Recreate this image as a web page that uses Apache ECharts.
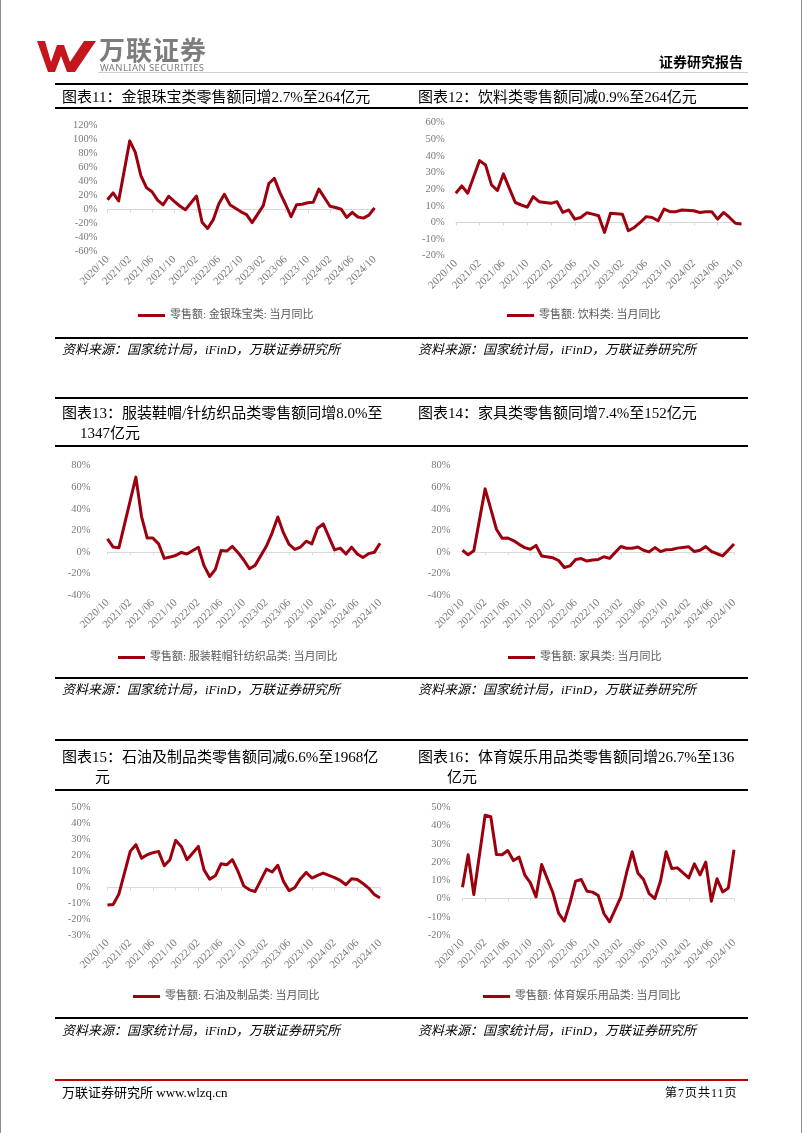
<!DOCTYPE html>
<html>
<head>
<meta charset="utf-8">
<script src="https://cdn.jsdelivr.net/npm/echarts@6/dist/echarts.min.js"></script>
<style>
html,body{margin:0;padding:0;background:#fff;}
#page{position:relative;width:802px;height:1133px;overflow:hidden;background:#fff;}
#chart{position:absolute;left:0;top:0;width:802px;height:1133px;}
.t{position:absolute;white-space:nowrap;font-family:"Liberation Serif","Noto Sans CJK SC",serif;color:#000;}
.hl{position:absolute;background:#000;}
</style>
</head>
<body>
<div id="page">
  <div id="chart"></div>
  <div style="position:absolute;left:0;top:0;width:1px;height:1133px;background:#8c8c8c"></div>
  <div style="position:absolute;left:801px;top:0;width:1px;height:1133px;background:#8c8c8c"></div>

  <!-- header -->
  <svg style="position:absolute;left:0;top:0" width="110" height="80">
    <path d="M37,41 L45,41 L51,62 L57,45 L64,45 L70,62 L84,41 L96,41 L75,72 L67,72 L61,56 L55,72 L48,72 Z" fill="#c4161c"/>
  </svg>
  <div class="t" style="left:99px;top:33px;font-family:'Noto Sans CJK SC';font-weight:700;font-size:26px;line-height:32px;color:#7d7d7d;letter-spacing:1px">万联证券</div>
  <div class="t" style="left:100px;top:62px;font-family:'Noto Sans',sans-serif;font-size:9.5px;line-height:11px;color:#7d7d7d;letter-spacing:0.4px">WANLIAN SECURITIES</div>
  <div style="position:absolute;left:98px;top:72px;width:650px;height:1px;background:#d0d0d0"></div>
  <div class="t" style="left:659px;top:51px;font-family:'Noto Sans CJK SC';font-weight:700;font-size:14px;line-height:20px">证券研究报告</div>

  <!-- section 1 -->
  <div class="hl" style="left:55px;top:83px;width:693px;height:2px"></div>
  <div class="t" style="left:62px;top:87px;font-size:15px;line-height:20px">图表11：金银珠宝类零售额同增2.7%至264亿元</div>
  <div class="t" style="left:418px;top:87px;font-size:15px;line-height:20px">图表12：饮料类零售额同减0.9%至264亿元</div>
  <div class="hl" style="left:55px;top:107px;width:693px;height:2px"></div>
  <div class="hl" style="left:55px;top:337px;width:693px;height:2px"></div>
  <div class="t" style="left:62px;top:341px;font-size:13px;line-height:18px;font-style:italic">资料来源：国家统计局，iFinD，万联证券研究所</div>
  <div class="t" style="left:418px;top:341px;font-size:13px;line-height:18px;font-style:italic">资料来源：国家统计局，iFinD，万联证券研究所</div>

  <!-- section 2 -->
  <div class="hl" style="left:55px;top:397px;width:693px;height:2px"></div>
  <div class="t" style="left:62px;top:403px;font-size:15px;line-height:20px">图表13：服装鞋帽/针纺织品类零售额同增8.0%至</div>
  <div class="t" style="left:80px;top:423px;font-size:15px;line-height:20px">1347亿元</div>
  <div class="t" style="left:418px;top:403px;font-size:15px;line-height:20px">图表14：家具类零售额同增7.4%至152亿元</div>
  <div class="hl" style="left:55px;top:445px;width:693px;height:2px"></div>
  <div class="hl" style="left:55px;top:677px;width:693px;height:2px"></div>
  <div class="t" style="left:62px;top:681px;font-size:13px;line-height:18px;font-style:italic">资料来源：国家统计局，iFinD，万联证券研究所</div>
  <div class="t" style="left:418px;top:681px;font-size:13px;line-height:18px;font-style:italic">资料来源：国家统计局，iFinD，万联证券研究所</div>

  <!-- section 3 -->
  <div class="hl" style="left:55px;top:739px;width:693px;height:2px"></div>
  <div class="t" style="left:62px;top:747px;font-size:15px;line-height:20px">图表15：石油及制品类零售额同减6.6%至1968亿</div>
  <div class="t" style="left:95px;top:767px;font-size:15px;line-height:20px">元</div>
  <div class="t" style="left:418px;top:747px;font-size:15px;line-height:20px">图表16：体育娱乐用品类零售额同增26.7%至136</div>
  <div class="t" style="left:447px;top:767px;font-size:15px;line-height:20px">亿元</div>
  <div class="hl" style="left:55px;top:789px;width:693px;height:2px"></div>
  <div class="hl" style="left:55px;top:1017px;width:693px;height:2px"></div>
  <div class="t" style="left:62px;top:1022px;font-size:13px;line-height:18px;font-style:italic">资料来源：国家统计局，iFinD，万联证券研究所</div>
  <div class="t" style="left:418px;top:1022px;font-size:13px;line-height:18px;font-style:italic">资料来源：国家统计局，iFinD，万联证券研究所</div>

  <!-- footer -->
  <div style="position:absolute;left:55px;top:1079px;width:693px;height:2px;background:#c00000"></div>
  <div class="t" style="left:62px;top:1084px;font-size:13px;line-height:18px">万联证券研究所 www.wlzq.cn</div>
  <div class="t" style="left:665px;top:1085px;font-size:12px;line-height:16px;letter-spacing:1px">第7页共11页</div>
</div>

<script>
// ---- data ----
const categories = [
  '2020/10','2020/11','2020/12',
  '2021/01','2021/02','2021/03','2021/04','2021/05','2021/06','2021/07','2021/08','2021/09','2021/10','2021/11','2021/12',
  '2022/01','2022/02','2022/03','2022/04','2022/05','2022/06','2022/07','2022/08','2022/09','2022/10','2022/11','2022/12',
  '2023/01','2023/02','2023/03','2023/04','2023/05','2023/06','2023/07','2023/08','2023/09','2023/10','2023/11','2023/12',
  '2024/01','2024/02','2024/03','2024/04','2024/05','2024/06','2024/07','2024/08','2024/09','2024/10'
];

const goldJewelry = [14.3, 24.0, 12.4,
  null, 98.3, 82.0, 48.7, 31.6, 25.6, 13.7, 7.0, 19.2, 12.0, 5.3, 0.0,
  null, 19.5, -17.9, -26.7, -14.6, 8.1, 22.1, 7.2, 2.0, -3.0, -7.0, -18.4,
  null, 5.9, 37.4, 44.7, 24.4, 7.8, -10.0, 7.2, 7.7, 10.0, 10.7, 29.4,
  null, 5.0, 3.2, 0.7, -11.0, -3.7, -10.4, -12.0, -7.8, 2.7];

const beverages = [17.6, 22.0, 17.6,
  null, 37.2, 34.6, 22.6, 19.2, 29.2, 20.5, 12.0, 10.5, 9.2, 15.5, 12.5,
  null, 11.5, 12.5, 6.0, 7.5, 2.0, 3.0, 5.8, 5.0, 4.0, -6.0, 5.5,
  null, 5.0, -5.0, -3.0, 0.0, 3.5, 3.0, 1.0, 8.0, 6.5, 6.5, 7.5,
  null, 7.0, 6.0, 6.5, 6.5, 2.0, 6.0, 3.0, -0.5, -0.9];

const apparel = [12.1, 4.5, 3.8,
  null, 47.5, 69.4, 32.8, 12.8, 12.8, 7.5, -6.0, -4.8, -3.3, -0.5, -2.0,
  null, 4.3, -12.7, -22.8, -16.2, 1.2, 0.8, 5.1, -0.7, -7.5, -15.6, -12.5,
  null, 5.4, 17.7, 32.4, 17.6, 6.9, 2.3, 4.5, 9.9, 7.5, 22.0, 26.0,
  null, 1.9, 3.5, -2.0, 4.4, -1.9, -5.2, -1.6, -0.4, 8.0];

const furniture = [1.5, -2.7, 1.0,
  null, 58.5, 40.0, 21.0, 12.7, 12.9, 10.5, 7.0, 4.0, 2.5, 6.0, -3.8,
  null, -5.5, -8.0, -14.5, -13.0, -7.0, -6.2, -8.5, -7.5, -7.0, -4.5, -6.0,
  null, 5.0, 3.4, 3.4, 4.6, 1.5, 0.0, 4.0, 0.3, 2.0, 2.2, 3.5,
  null, 4.7, 0.3, 1.5, 4.9, 0.5, -1.7, -3.7, 1.8, 7.4];

const petroleum = [-11.0, -10.7, -4.2,
  null, 22.6, 26.8, 18.4, 20.5, 21.8, 22.6, 13.6, 17.4, 29.5, 25.7, 17.4,
  null, 25.7, 11.0, 5.2, 7.3, 14.8, 14.2, 17.4, 10.0, 1.0, -1.5, -2.5,
  null, 11.5, 9.7, 13.9, 3.8, -2.1, 0.0, 5.5, 9.4, 5.9, 7.5, 9.0,
  null, 6.2, 4.4, 1.7, 5.5, 5.0, 2.5, -0.4, -4.4, -6.6];

const sportsGoods = [6.2, 24.0, 2.2,
  null, 45.7, 44.8, 24.1, 24.0, 26.3, 20.8, 22.7, 13.0, 8.6, 0.9, 18.6,
  null, 3.0, -8.2, -12.4, -2.4, 9.5, 10.4, 4.0, 3.5, 1.6, -8.2, -12.8,
  null, 0.9, 14.0, 25.6, 14.0, 10.4, 2.7, 0.0, 9.5, 25.6, 16.4, 16.8,
  null, 11.3, 19.0, 13.0, 20.0, -1.5, 10.8, 3.6, 5.8, 26.7];

const seriesNames = [
  '零售额: 金银珠宝类: 当月同比',
  '零售额: 饮料类: 当月同比',
  '零售额: 服装鞋帽针纺织品类: 当月同比',
  '零售额: 家具类: 当月同比',
  '零售额: 石油及制品类: 当月同比',
  '零售额: 体育娱乐用品类: 当月同比'
];
const seriesData = [goldJewelry, beverages, apparel, furniture, petroleum, sportsGoods];
const yMin = [-60, -20, -40, -40, -30, -20];
const yMax = [120, 60, 80, 80, 50, 50];
const yStep = [20, 10, 20, 20, 10, 10];

// ---- layout ----
const layout = [
  {grid:{left:107.5, top:125.7, width:267, height:126}, legend:[138,310], ym:10},
  {grid:{left:455.8, top:122.7, width:285.6, height:133}, legend:[507,310], ym:11},
  {grid:{left:107.5, top:465.7, width:272.5, height:129.3}, legend:[118,652], ym:17},
  {grid:{left:462.5, top:465.7, width:271.5, height:129.3}, legend:[508,652], ym:12},
  {grid:{left:107.5, top:807.7, width:272.5, height:127.6}, legend:[133,991], ym:17},
  {grid:{left:462.5, top:807.3, width:271.5, height:127.7}, legend:[483,991], ym:12}
];

const LINE = '#9c000e';
const AXIS_TXT = '#7a7a7a';
const FONT = "'Liberation Serif', 'Noto Sans CJK SC', serif";

const option = {
  animation: false,
  backgroundColor: 'transparent',
  grid: [], xAxis: [], yAxis: [], series: [], legend: []
};

layout.forEach((L, i) => {
  option.grid.push(Object.assign({containLabel:false}, L.grid));
  // labels axis (at bottom)
  option.xAxis.push({
    type:'category', gridIndex:i, data:categories, boundaryGap:false, position:'bottom',
    axisLine:{show:false, onZero:false}, axisTick:{show:false}, splitLine:{show:false},
    axisLabel:{show:true, interval:3, rotate:45, fontSize:11, color:AXIS_TXT, fontFamily:FONT, margin:6}
  });
  // zero line axis
  option.xAxis.push({
    type:'category', gridIndex:i, data:categories, boundaryGap:false, position:'bottom',
    axisLine:{show:true, onZero:true, lineStyle:{color:'#d9d9d9', width:1}},
    axisTick:{show:true, interval:3, length:3, lineStyle:{color:'#d9d9d9'}},
    axisLabel:{show:false}, splitLine:{show:false}
  });
  option.yAxis.push({
    type:'value', gridIndex:i, min:yMin[i], max:yMax[i], interval:yStep[i],
    axisLine:{show:false}, axisTick:{show:false}, splitLine:{show:false},
    axisLabel:{formatter:'{value}%', fontSize:10.5, color:AXIS_TXT, fontFamily:FONT, margin:L.ym}
  });
  option.series.push({
    name:seriesNames[i], type:'line', xAxisIndex:2*i, yAxisIndex:i,
    data:seriesData[i], connectNulls:true, symbol:'none', showSymbol:false,
    lineStyle:{color:LINE, width:3, join:'round'}, itemStyle:{color:LINE}
  });
  option.legend.push({
    data:[seriesNames[i]], left:L.legend[0], top:L.legend[1], padding:0,
    icon:'rect', itemWidth:27, itemHeight:3,
    textStyle:{fontSize:11, color:'#595959', fontFamily:FONT}
  });
});

const chart = echarts.init(document.getElementById('chart'), null, {renderer:'canvas'});
chart.setOption(option);
</script>
</body>
</html>
